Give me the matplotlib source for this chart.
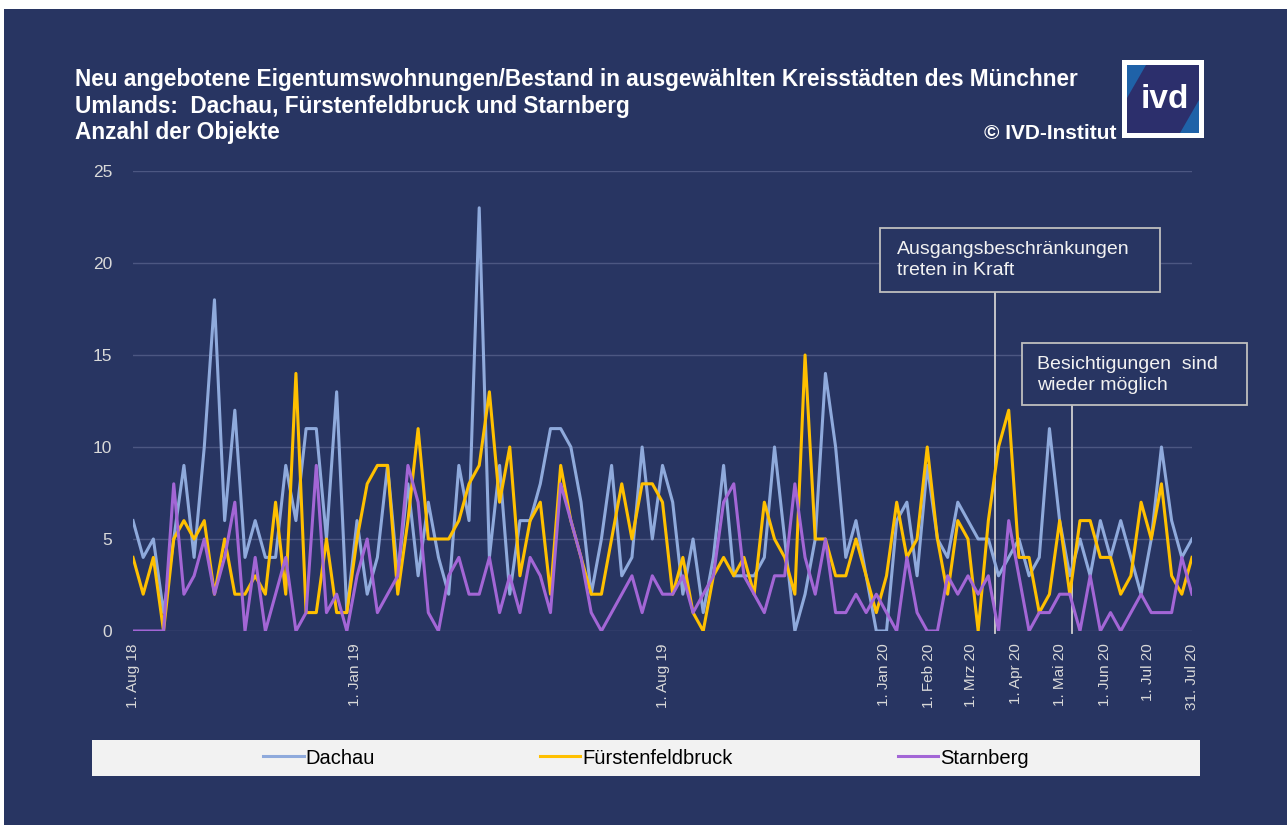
import matplotlib
matplotlib.use('Agg')
import matplotlib.pyplot as plt
import matplotlib.dates as mdates
import matplotlib.transforms as mtransforms
from matplotlib.patches import Rectangle, Polygon, Arc
import pandas as pd

plt.rcParams['font.family'] = ['Liberation Sans', 'DejaVu Sans']

# ---------------- data ----------------
start_date = '2018-08-01'
end_date = '2020-07-31'
n_weeks = 105

dachau = [6, 4, 5, 1, 5, 9, 4, 10, 18, 6, 12, 4, 6, 4, 4, 9, 6, 11, 11, 5,
          13, 1, 6, 2, 4, 9, 3, 8, 3, 7, 4, 2, 9, 6, 23, 4, 9, 2, 6, 6,
          8, 11, 11, 10, 7, 2, 5, 9, 3, 4, 10, 5, 9, 7, 2, 5, 1, 4, 9, 3,
          3, 3, 4, 10, 5, 0, 2, 5, 14, 10, 4, 6, 3, 0, 0, 6, 7, 3, 9, 5,
          4, 7, 6, 5, 5, 3, 4, 5, 3, 4, 11, 6, 3, 5, 3, 6, 4, 6, 4, 2,
          5, 10, 6, 4, 5]
fuerstenfeldbruck = [4, 2, 4, 0, 5, 6, 5, 6, 2, 5, 2, 2, 3, 2, 7, 2, 14, 1, 1, 5,
                     1, 1, 5, 8, 9, 9, 2, 6, 11, 5, 5, 5, 6, 8, 9, 13, 7, 10, 3, 6,
                     7, 2, 9, 6, 4, 2, 2, 5, 8, 5, 8, 8, 7, 2, 4, 1, 0, 3, 4, 3,
                     4, 2, 7, 5, 4, 2, 15, 5, 5, 3, 3, 5, 3, 1, 3, 7, 4, 5, 10, 5,
                     2, 6, 5, 0, 6, 10, 12, 4, 4, 1, 2, 6, 2, 6, 6, 4, 4, 2, 3, 7,
                     5, 8, 3, 2, 4]
starnberg = [0, 0, 0, 0, 8, 2, 3, 5, 2, 4, 7, 0, 4, 0, 2, 4, 0, 1, 9, 1,
             2, 0, 3, 5, 1, 2, 3, 9, 7, 1, 0, 3, 4, 2, 2, 4, 1, 3, 1, 4,
             3, 1, 8, 6, 4, 1, 0, 1, 2, 3, 1, 3, 2, 2, 3, 1, 2, 3, 7, 8,
             3, 2, 1, 3, 3, 8, 4, 2, 5, 1, 1, 2, 1, 2, 1, 0, 4, 1, 0, 0,
             3, 2, 3, 2, 3, 0, 6, 3, 0, 1, 1, 2, 2, 0, 3, 0, 1, 0, 1, 2,
             1, 1, 1, 4, 2]

series_names = ['Dachau', 'Fürstenfeldbruck', 'Starnberg']
series_colors = ['#8FAADC', '#FFC000', '#A366D6']

tick_dates = ['2018-08-01', '2019-01-01', '2019-08-01', '2020-01-01', '2020-02-01',
              '2020-03-01', '2020-04-01', '2020-05-01', '2020-06-01', '2020-07-01',
              '2020-07-31']
tick_labels = ['1. Aug 18', '1. Jan 19', '1. Aug 19', '1. Jan 20', '1. Feb 20',
               '1. Mrz 20', '1. Apr 20', '1. Mai 20', '1. Jun 20', '1. Jul 20',
               '31. Jul 20']
y_ticks = [0, 5, 10, 15, 20, 25]

event_dates = ['2020-03-17', '2020-05-09']
event_labels = ['Ausgangsbeschränkungen\ntreten in Kraft',
                'Besichtigungen  sind\nwieder möglich']

title_lines = ['Neu angebotene Eigentumswohnungen/Bestand in ausgewählten Kreisstädten des Münchner',
               'Umlands:  Dachau, Fürstenfeldbruck und Starnberg',
               'Anzahl der Objekte']
copyright_text = '© IVD-Institut'

# ---------------- figure ----------------
W, H = 1287, 825
fig = plt.figure(figsize=(W / 100, H / 100), dpi=100, facecolor='white')


def fx(px):
    return px / W


def fy(py):
    return 1 - py / H


BG = '#283562'
fig.add_artist(Rectangle((fx(4), 0), 1 - fx(4), fy(9), transform=fig.transFigure,
                         facecolor=BG, edgecolor='none', zorder=0))

ax = fig.add_axes([fx(133), fy(631), fx(1192) - fx(133), fy(171) - fy(631)])
ax.set_facecolor('none')
ax.set_zorder(2)

dates = pd.date_range(start_date, end_date, periods=n_weeks)
for vals, name, col in zip([dachau, fuerstenfeldbruck, starnberg], series_names, series_colors):
    ax.plot(dates, vals, color=col, lw=2.2, label=name, solid_joinstyle='round')

ax.set_xlim(dates[0], dates[-1])
ax.set_ylim(0, 25)
ax.set_yticks(y_ticks)
ax.set_xticks([mdates.date2num(pd.Timestamp(d)) for d in tick_dates])
ax.set_xticklabels(tick_labels, rotation=90, fontsize=11, color='#D9D9D9')
for t in ax.get_yticklabels():
    t.set_fontsize(12.5)
    t.set_color('#D9D9D9')
ax.tick_params(axis='x', length=0, pad=9)
ax.tick_params(axis='y', length=0, pad=15)
for s in ax.spines.values():
    s.set_visible(False)
ax.yaxis.grid(True, color='#4C5782', lw=1)
ax.set_axisbelow(True)

# event lines
blend = mtransforms.blended_transform_factory(ax.transData, ax.transAxes)
line_tops = [(631 - 292) / 460, (631 - 405) / 460]
for d, top in zip(event_dates, line_tops):
    xd = mdates.date2num(pd.Timestamp(d))
    ax.plot([xd, xd], [-0.004, top], color='#D0D0D0', lw=1.3, transform=blend, clip_on=False, zorder=1)

# annotation boxes
boxes = [(880, 228, 1160, 292, 897, 260), (1022, 343, 1247, 405, 1037, 375)]
for (x0, y0, x1, y1, tx, ty), lab in zip(boxes, event_labels):
    fig.add_artist(Rectangle((fx(x0), fy(y1)), fx(x1) - fx(x0), fy(y0) - fy(y1),
                             transform=fig.transFigure, facecolor=BG, edgecolor='#BFBFBF',
                             lw=1.3, zorder=3))
    fig.text(fx(tx), fy(ty), lab, ha='left', va='center', fontsize=14, color='#F2F2F2',
             linespacing=1.3, zorder=4)

# title
title_baselines = [86, 113, 139]
for line, yb in zip(title_lines, title_baselines):
    fig.text(fx(75), fy(yb), line, ha='left', va='baseline', fontsize=16.3,
             fontweight='bold', color='white')
fig.text(fx(1117), fy(139), copyright_text, ha='right', va='baseline', fontsize=15,
         fontweight='bold', color='white')

# logo
fig.add_artist(Rectangle((fx(1122), fy(138)), fx(1204) - fx(1122), fy(60) - fy(138),
                         transform=fig.transFigure, facecolor='white', edgecolor='none'))
fig.add_artist(Rectangle((fx(1127), fy(133)), fx(1199) - fx(1127), fy(65) - fy(133),
                         transform=fig.transFigure, facecolor='#2C2F6C', edgecolor='none'))
fig.add_artist(Polygon([(fx(1127), fy(65)), (fx(1146), fy(65)), (fx(1127), fy(98))],
                       closed=True, transform=fig.transFigure, facecolor='#1F62A8', edgecolor='none'))
fig.add_artist(Polygon([(fx(1199), fy(133)), (fx(1180), fy(133)), (fx(1199), fy(100))],
                       closed=True, transform=fig.transFigure, facecolor='#1F62A8', edgecolor='none'))
fig.text(fx(1165), fy(100), 'ivd', ha='center', va='center', fontsize=24,
         fontweight='bold', color='white')

# legend
fig.add_artist(Rectangle((fx(92), fy(776)), fx(1200) - fx(92), fy(740) - fy(776),
                         transform=fig.transFigure, facecolor='#F2F2F2', edgecolor='none', zorder=1))
handles, labels = ax.get_legend_handles_labels()
leg = fig.legend(handles, labels, loc='center', bbox_to_anchor=(fx(646), fy(758)), ncol=3,
                 frameon=False, fontsize=14.5, handlelength=2.0, handletextpad=0.1,
                 columnspacing=8.2)
leg.set_zorder(5)
for t in leg.get_texts():
    t.set_color('#000000')

fig.savefig('out.png', dpi=100, facecolor='white')
